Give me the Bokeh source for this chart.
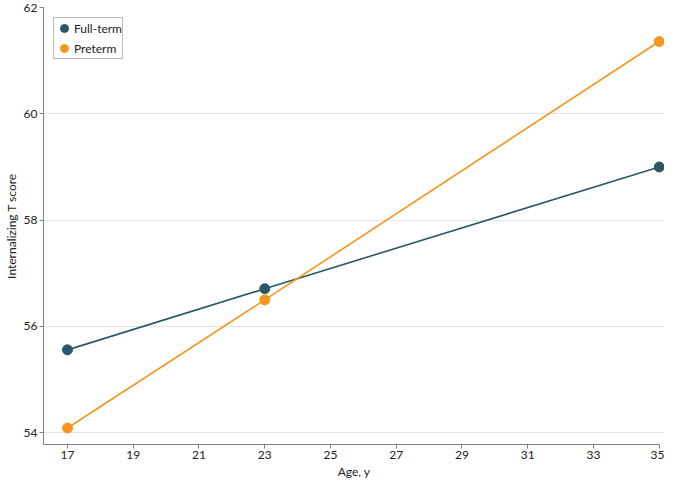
from bokeh.plotting import figure
from bokeh.embed import file_html
from bokeh.resources import INLINE
from bokeh.models import Range1d, FixedTicker, Legend, LegendItem

ages = [17, 23, 35]
full_term = [55.56, 56.71, 59.0]
preterm = [54.09, 56.5, 61.36]
x_ticks = [17, 19, 21, 23, 25, 27, 29, 31, 33, 35]
y_ticks = [54, 56, 58, 60, 62]

FONT = "Lato"
TEAL = "#2b5766"
ORANGE = "#f5961f"

p = figure(width=664, height=481, output_backend="svg", toolbar_location=None,
           x_range=Range1d(16.27, 35.16), y_range=Range1d(53.78, 62.0),
           min_border_left=36, min_border_right=0, min_border_top=7, min_border_bottom=0)
p.outline_line_color = None
p.xgrid.grid_line_color = None
p.ygrid.grid_line_color = "#e5e5e5"

p.xaxis.ticker = FixedTicker(ticks=x_ticks)
p.yaxis.ticker = FixedTicker(ticks=y_ticks)
p.xaxis.bounds = (16.27, 35)
p.xaxis.axis_label = "Age, y"
p.yaxis.axis_label = "Internalizing T score"
for ax in (p.xaxis, p.yaxis):
    ax.axis_line_color = "#808080"
    ax.major_tick_line_color = "#808080"
    ax.minor_tick_line_color = None
    ax.major_tick_in = 0
    ax.major_tick_out = 4
    ax.major_label_standoff = 2
    ax.major_label_text_font = FONT
    ax.major_label_text_font_size = "12px"
    ax.major_label_text_color = "#222222"
    ax.axis_label_text_font = FONT
    ax.axis_label_text_font_size = "12px"
    ax.axis_label_text_font_style = "normal"
    ax.axis_label_text_color = "#222222"
p.xaxis.axis_label_standoff = 2
p.yaxis.axis_label_standoff = 2

p.line(ages, full_term, line_color=TEAL, line_width=1.6)
p.line(ages, preterm, line_color=ORANGE, line_width=1.6)
s1 = p.scatter(ages, full_term, size=10, fill_color=TEAL, line_color=TEAL)
s2 = p.scatter(ages, preterm, size=10, fill_color=ORANGE, line_color=ORANGE)

legend = Legend(items=[LegendItem(label="Full-term", renderers=[s1]),
                       LegendItem(label="Preterm", renderers=[s2])],
                location="top_left", margin=10, padding=0, spacing=-5,
                glyph_height=20, glyph_width=20, label_height=15,
                label_standoff=-4,
                label_text_font=FONT, label_text_font_size="12px",
                label_text_color="#222222",
                border_line_color="#777777", border_line_width=1,
                background_fill_alpha=1.0)
p.add_layout(legend)

open("out.html", "w").write(file_html(p, INLINE))
